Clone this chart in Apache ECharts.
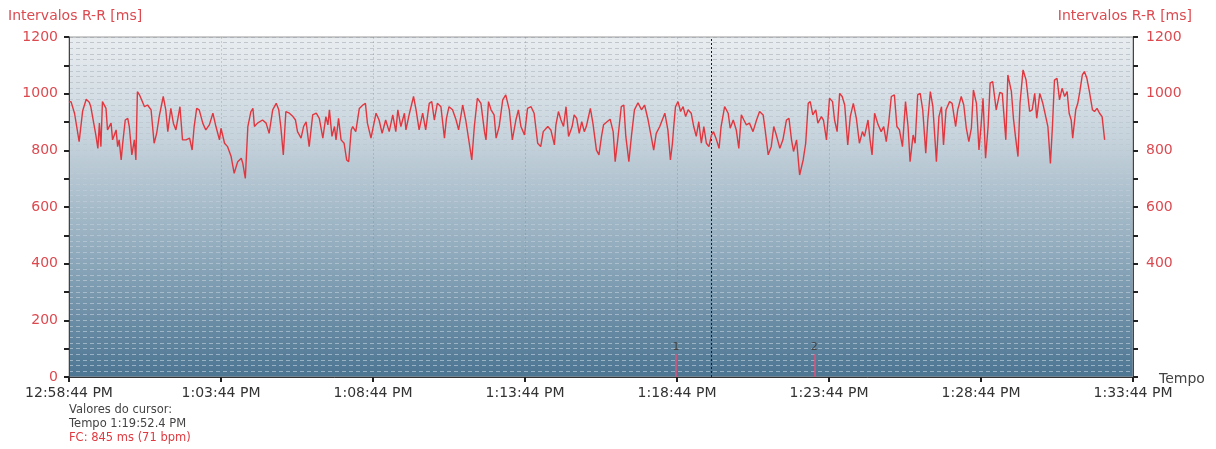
<!DOCTYPE html>
<html>
<head>
<meta charset="utf-8">
<script src="https://cdn.jsdelivr.net/npm/echarts@6/dist/echarts.min.js"></script>
<style>
html,body{margin:0;padding:0;background:#fff;}
#c{width:1216px;height:449px;}
</style>
</head>
<body>
<div id="c"></div>
<script>
// elapsed seconds from 12:58:44 PM
const tSec = [0,4,11,20,27,34,40,43,53,57,60,63,66,73,76,83,86,93,96,99,103,106,111,116,119,124,129,132,135,139,142,149,155,162,168,173,178,186,191,195,201,206,211,219,224,231,238,243,247,252,257,264,270,277,284,290,297,300,307,313,320,326,333,340,343,348,353,359,363,366,372,382,389,395,402,409,414,418,423,428,435,442,447,451,458,463,468,474,481,488,494,501,507,511,
514,519,524,527,532,537,543,548,552,557,560,566,573,580,585,589,596,606,612,618,625,632,639,645,649,655,662,665,672,680,685,691,698,704,711,716,721,727,734,741,745,750,757,764,769,777,783,790,795,800,806,813,820,823,828,833,839,843,849,856,862,869,875,882,887,892,899,905,912,918,925,931,936,945,951,958,961,966,971,976,981,986,993,997,1002,1007,1012,1017,
1021,1029,1034,1041,1046,1051,1055,1062,1068,1074,1078,1083,1090,1095,1099,1105,1110,1116,1123,1130,1136,1143,1149,1154,1159,1166,1176,1182,1187,1191,1193,1197,1202,1207,1212,1217,1222,1228,1233,1238,1243,1248,1253,1258,1263,1268,1272,1278,1283,1287,1294,1301,1305,1311,1317,1322,1327,1332,1337,1343,1350,1357,1363,1370,1374,1380,1386,1391,1396,1403,1409,1416,1421,1426,1430,1436,1442,1449,1454,1459,1463,1468,1474,1478,1485,1489,1495,1501,1507,1511,1516,1521,1526,1531,
1537,1542,1548,1554,1560,1566,1570,1577,1581,1585,1590,1597,1603,1608,1613,1618,1623,1629,1634,1639,1645,1651,1656,1660,1666,1670,1675,1680,1685,1691,1695,1700,1705,1712,1717,1722,1726,1731,1738,1743,1750,1754,1761,1766,1771,1776,1781,1785,1791,1796,1800,1804,1809,1814,1818,1823,1830,1837,1842,1849,1853,1860,1864,1868,1873,1877,1883,1889,1896,1901,1906,1910,1916,1922,1927,1932,1937,1941,1945,1950,1955,1960,1965,1970,1974,1978,1981,1987,1991,1995,2000,2004,2009,2014,2020,2024,2029,2034,2039,2044];
// R-R interval [ms]
const rr = [970,972,930,831,940,980,970,954,854,807,896,813,972,948,872,896,837,872,813,837,766,825,907,913,884,784,837,766,1007,996,984,954,960,943,825,860,919,990,943,866,948,896,872,954,837,837,843,801,884,948,943,896,872,890,931,884,837,878,825,813,778,719,760,772,754,701,884,937,948,884,896,907,896,860,943,966,943,884,784,937,931,919,907,866,843,884,901,813,925,931,913,843,919,890,
943,849,884,837,913,837,825,766,760,872,884,866,948,960,966,896,843,931,907,860,907,866,925,866,943,884,931,872,931,990,943,872,931,872,966,972,907,966,954,843,913,954,943,907,872,960,907,825,766,884,984,966,866,837,972,943,925,843,884,978,996,943,837,907,943,884,854,948,954,931,825,813,866,884,872,819,890,937,907,884,954,849,884,925,913,860,901,866,
884,948,896,801,784,849,890,901,910,866,760,837,954,960,849,760,849,943,968,943,960,907,849,801,860,884,931,872,766,825,872,954,972,937,954,919,943,931,884,849,901,825,884,825,813,854,866,837,807,884,954,931,878,907,872,807,925,907,890,896,866,907,937,925,872,784,813,884,854,807,837,907,913,837,796,837,713,766,825,966,972,925,943,896,919,907,837,984,972,907,866,1001,990,960,
819,919,966,913,825,866,849,907,837,784,931,890,866,884,831,901,990,996,884,872,813,972,884,760,854,825,996,1001,943,790,907,1007,954,760,919,954,819,943,972,966,884,943,990,960,878,831,878,1013,966,801,884,984,772,884,1037,1043,943,1004,1001,837,1066,1007,913,849,778,966,1084,1048,937,943,1001,913,1001,966,925,884,754,884,1048,1054,978,1019,990,1007,931,907,843,943,966,1007,1066,1078,1054,1007,943,937,948,931,919,837];

const xTickLabels = ['12:58:44 PM','1:03:44 PM','1:08:44 PM','1:13:44 PM','1:18:44 PM','1:23:44 PM','1:28:44 PM','1:33:44 PM'];
const yAxisTitle = 'Intervalos R-R [ms]';
const xAxisTitle = 'Tempo';
const cursorSec = 1268.4;          // 1:19:52.4 PM
const eventMarks = [{t:1198, label:'1'}, {t:1471, label:'2'}];
const cursorLines = ['Valores do cursor:', 'Tempo 1:19:52.4 PM', 'FC: 845 ms (71 bpm)'];

const RED_TXT = '#dc4a50';
const FONT = '"DejaVu Sans", Verdana, sans-serif';

const chart = echarts.init(document.getElementById('c'), null, {renderer:'canvas'});

const gridLineGrad = {type:'linear', x:0, y:37, x2:0, y2:377, global:true,
  colorStops:[{offset:0,color:'rgba(150,158,168,0.5)'},{offset:0.45,color:'rgba(200,210,220,0.45)'},{offset:1,color:'rgba(225,235,245,0.5)'}]};

const series = [{
  type:'line',
  data: tSec.map((t,i)=>[t, rr[i]]),
  showSymbol:false,
  symbol:'none',
  lineStyle:{color:'#e2363e', width:1.4},
  animation:false,
  z:5,
  markLine:{
    silent:true, symbol:'none', animation:false,
    data:[
      {xAxis:cursorSec, lineStyle:{color:'#1a1a1a', type:[2,2], width:1}, label:{show:false}},
      ...eventMarks.map(m=>[
        {coord:[m.t,0], lineStyle:{color:'#e0507a', type:'solid', width:1.5}},
        {coord:[m.t,80], label:{show:true, position:'end', formatter:m.label, color:'#444', fontSize:11, fontFamily:FONT, distance:2}}
      ])
    ]
  }
}];

const option = {
  animation:false,
  backgroundColor:'#ffffff',
  grid:{left:69, right:83, top:37, bottom:72, show:true, borderColor:'#9a9a9a', borderWidth:1,
    backgroundColor:{type:'linear', x:0, y:0, x2:0, y2:1,
      colorStops:[{offset:0,color:'#e9edf0'},{offset:0.3,color:'#c6d3dc'},{offset:0.6,color:'#96afc0'},{offset:1,color:'#4c7592'}]}},
  xAxis:{
    type:'value', min:0, max:2100, interval:300,
    axisLine:{show:true, lineStyle:{color:'#333', width:1}},
    axisTick:{show:true, length:5, lineStyle:{color:'#222', width:2}},
    axisLabel:{color:'#333', fontSize:14, fontFamily:FONT, margin:9,
      formatter:v=>xTickLabels[Math.round(v/300)] || ''},
    splitLine:{show:true, lineStyle:{color:'rgba(110,120,135,0.28)', type:[2,2], width:1}}
  },
  yAxis:[
    {type:'value', min:0, max:1200, interval:200, position:'left',
      axisLine:{show:true, lineStyle:{color:'#444'}},
      axisTick:{show:true, length:5, lineStyle:{color:'#222', width:2}},
      minorTick:{show:true, splitNumber:2, length:5, lineStyle:{color:'#222', width:2}},
      axisLabel:{color:RED_TXT, fontSize:14, fontFamily:FONT, margin:11, formatter:v=>String(v)},
      splitLine:{show:false}},
    {type:'value', min:0, max:1200, interval:200, position:'right',
      axisLine:{show:true, lineStyle:{color:'#444'}},
      axisTick:{show:true, length:5, lineStyle:{color:'#222', width:2}},
      minorTick:{show:true, splitNumber:2, length:5, lineStyle:{color:'#222', width:2}},
      axisLabel:{color:RED_TXT, fontSize:14, fontFamily:FONT, margin:13,
        formatter:v=> v>=400 ? String(v) : ''},
      splitLine:{show:false}},
    {type:'value', min:0, max:1200, interval:20, position:'right', show:true,
      axisLine:{show:false}, axisTick:{show:false}, axisLabel:{show:false},
      splitLine:{show:true, lineStyle:{color:gridLineGrad, type:[4,3], width:1}}}
  ],
  series: series,
  graphic:[
    {type:'text', left:8, top:9, style:{text:yAxisTitle, fill:RED_TXT, font:'14px '+FONT}},
    {type:'text', right:24, top:9, style:{text:yAxisTitle, fill:RED_TXT, font:'14px '+FONT}},
    {type:'text', left:1159, top:372, style:{text:xAxisTitle, fill:'#444', font:'14px '+FONT}},
    {type:'text', left:69, top:404, style:{text:cursorLines[0], fill:'#444', font:'11.5px '+FONT}},
    {type:'text', left:69, top:418, style:{text:cursorLines[1], fill:'#444', font:'11.5px '+FONT}},
    {type:'text', left:69, top:432, style:{text:cursorLines[2], fill:'#e03a40', font:'11.5px '+FONT}}
  ]
};
chart.setOption(option);
</script>
</body>
</html>
